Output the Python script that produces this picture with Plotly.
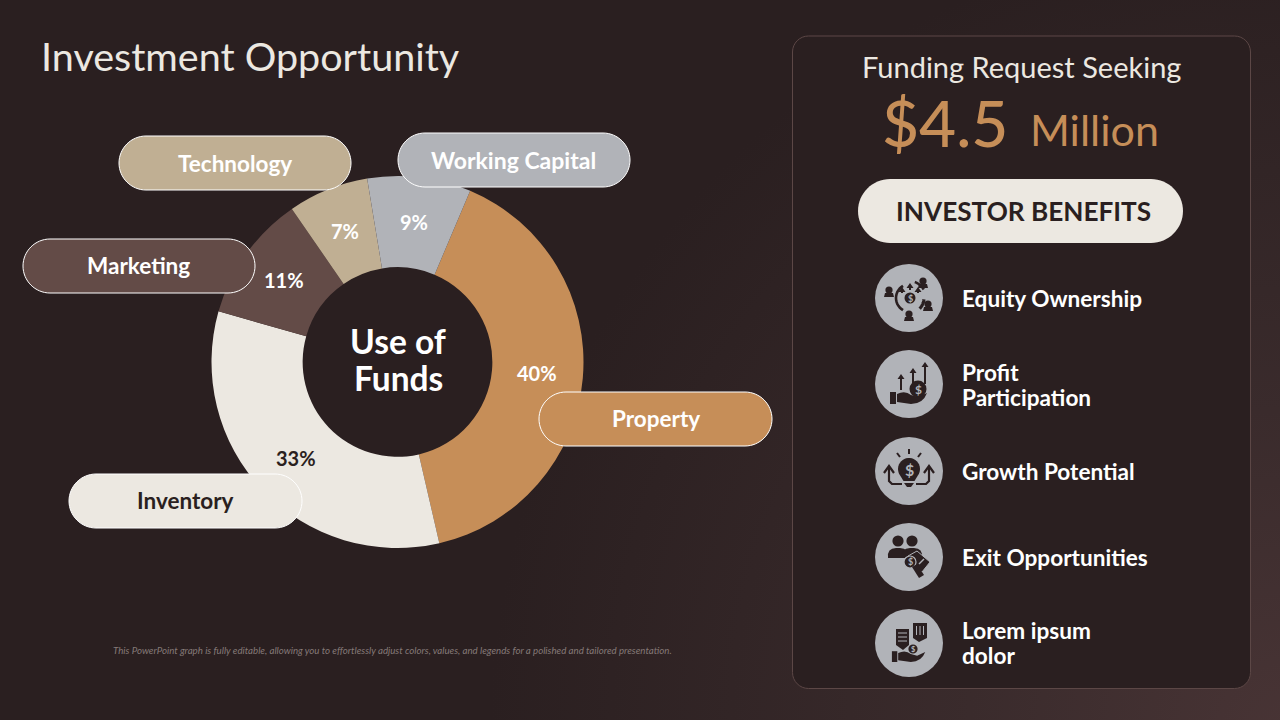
import base64, math
import plotly.graph_objects as go

# ---- data ----
categories = ["Property", "Inventory", "Marketing", "Technology", "Working Capital"]
shares = [40, 33, 11, 7, 9]
slice_colors = ["#C68E58", "#ECE8E1", "#634B47", "#C0AF93", "#B1B3B8"]
pct_colors = ["#FFFFFF", "#2A1F20", "#FFFFFF", "#FFFFFF", "#FFFFFF"]
benefits = [["Equity Ownership"], ["Profit", "Participation"], ["Growth Potential"], ["Exit Opportunities"], ["Lorem ipsum", "dolor"]]

BG = "#2A1F20"
CREAM = "#ECE8E1"
W, H = 1280, 720
CX, CY, R = 397.5, 362, 186
ROT = 23

svg = f'''<svg xmlns="http://www.w3.org/2000/svg" width="{W}" height="{H}"><defs>
<radialGradient id="g" gradientUnits="userSpaceOnUse" cx="1290" cy="730" r="800">
<stop offset="0" stop-color="#483435"/><stop offset="0.4" stop-color="#3A2B2C"/><stop offset="1" stop-color="{BG}"/>
</radialGradient></defs><rect width="{W}" height="{H}" fill="url(#g)"/></svg>'''
bg_uri = "data:image/svg+xml;base64," + base64.b64encode(svg.encode()).decode()

fig = go.Figure()
fig.add_trace(go.Scatter(x=[0, W], y=[0, H], mode="markers", marker=dict(opacity=0), hoverinfo="skip", showlegend=False))
fig.add_trace(go.Pie(
    labels=categories, values=shares, sort=False, direction="clockwise", rotation=ROT,
    hole=0.51, marker=dict(colors=slice_colors, line=dict(width=0)),
    textinfo="none",
    domain=dict(x=[(CX - R) / W, (CX + R) / W], y=[1 - (CY + R) / H, 1 - (CY - R) / H]),
    showlegend=False,
))

shapes, annos = [], []

def text(x, y, s, size, color="#FFFFFF", weight=400, anchor="center", style="normal"):
    annos.append(dict(x=x, y=y, xref="x", yref="y", text=s, showarrow=False, xanchor=anchor, yanchor="middle",
                      align="left" if anchor == "left" else "center",
                      font=dict(family="Lato", size=size, color=color, weight=weight, style=style)))

def pill_path(x0, y0, x1, y1, r=None):
    r = r or (y1 - y0) / 2
    k = 0.55 * r
    return (f"M{x0+r},{y0} L{x1-r},{y0} C{x1-r+k},{y0} {x1},{y0+r-k} {x1},{y0+r} L{x1},{y1-r} C{x1},{y1-r+k} {x1-r+k},{y1} {x1-r},{y1} "
            f"L{x0+r},{y1} C{x0+r-k},{y1} {x0},{y1-r+k} {x0},{y1-r} L{x0},{y0+r} C{x0},{y0+r-k} {x0+r-k},{y0} {x0+r},{y0} Z")

def shape_path(p, fill=None, line=None, width=0, layer="above"):
    shapes.append(dict(type="path", path=p, xref="x", yref="y", layer=layer,
                       fillcolor=fill or "rgba(0,0,0,0)",
                       line=dict(color=line or "rgba(0,0,0,0)", width=width)))

def circle(cx, cy, r, fill=None, line=None, width=0):
    shapes.append(dict(type="circle", xref="x", yref="y", x0=cx - r, x1=cx + r, y0=cy - r, y1=cy + r, layer="above",
                       fillcolor=fill or "rgba(0,0,0,0)", line=dict(color=line or "rgba(0,0,0,0)", width=width)))

# right panel
shape_path(pill_path(792.5, 36, 1250.5, 688.5, 16), BG, "#5C4746", 1, layer="below")

# percentage labels placed from the shares, mid-ring
acc = 0
total = sum(shares)
for v, col in zip(shares, pct_colors):
    mid = math.radians(ROT + (acc + v / 2) / total * 360)
    acc += v
    text(CX + 140 * math.sin(mid), CY - 140 * math.cos(mid) - 1, f"{v}%", 20, col, 700)

# category pills
pills = [
    (119, 136, 351, 190, 235, 163, "Technology", "#FFFFFF"),
    (398, 133, 630, 187, 513, 160, "Working Capital", "#FFFFFF"),
    (23, 239, 255, 293, 138.5, 265, "Marketing", "#FFFFFF"),
    (539, 392, 772, 446, 656, 418, "Property", "#FFFFFF"),
    (69, 474, 302, 528, 185, 500, "Inventory", "#2A1F20"),
]
fills = dict(zip(categories, slice_colors))
for x0, y0, x1, y1, tx, ty, name, col in pills:
    shape_path(pill_path(x0, y0, x1, y1), fills[name], "#FFFFFF", 1)
    text(tx, ty, name, 22.5 if name != "Working Capital" else 23, col, 700)

# titles
text(39, 55, "Investment Opportunity", 39.5, CREAM, 400, anchor="left")
text(398, 341, "Use of", 33.5, "#FFFFFF", 700)
text(398, 378, "Funds", 33.5, "#FFFFFF", 700)
text(1021, 66, "Funding Request Seeking", 29, CREAM, 400)
text(945, 122, "$4.5", 64, "#C68E58", 500)
text(1094.5, 129, "Million", 43, "#C68E58", 400)
shape_path(pill_path(858, 179, 1183, 243), CREAM)
text(1023.5, 211, "INVESTOR BENEFITS", 26.2, BG, 700)
text(392, 650, "This PowerPoint graph is fully editable, allowing you to effortlessly adjust colors, values, and legends for a polished and tailored presentation.",
     9.7, "#857A78", 400, style="italic")

# benefit rows
ICON = "#2A1F20"
GREY = "#B1B3B8"
rows = [298, 384, 471, 557, 643]
for y, lines in zip(rows, benefits):
    circle(909, y, 34, GREY)
    if len(lines) == 1:
        text(960, y, lines[0], 22.6, "#FFFFFF", 700, anchor="left")
    else:
        text(960, y - 13 if y > 400 else y - 12, lines[0], 22.6, "#FFFFFF", 700, anchor="left")
        text(960, y + 12 if y > 400 else y + 13, lines[1], 22.6, "#FFFFFF", 700, anchor="left")

def ic(cx, cy, pts, close=True):
    return "M" + " L".join(f"{cx+a:.2f},{cy+b:.2f}" for a, b in pts) + (" Z" if close else "")

def arc(cx, cy, r, a0, a1, n=14):
    pts = [(r * math.sin(math.radians(a0 + (a1 - a0) * i / n)), -r * math.cos(math.radians(a0 + (a1 - a0) * i / n))) for i in range(n + 1)]
    return ic(cx, cy, pts, False)

def arrow(cx, cy, x, y0, y1, w=1.0):
    shape_path(ic(cx, cy, [(x - w, y1), (x - w, y0 + 5), (x - 3.5, y0 + 5), (x, y0), (x + 3.5, y0 + 5), (x + w, y0 + 5), (x + w, y1)]), ICON)

def dollar(x, y, size, col=GREY):
    annos.append(dict(x=x, y=y, xref="x", yref="y", text="$", showarrow=False,
                      font=dict(family="Lato", size=size, color=col, weight=700)))

def hand(cx, cy, dy=0, s=1.0):
    shape_path(ic(cx, cy, [(-19*s, 8*s+dy), (-13*s, 8*s+dy), (-13*s, 20*s+dy), (-19*s, 20*s+dy)]), ICON)
    shape_path(f"M{cx-12*s},{cy+10*s+dy} Q{cx-4*s},{cy+6*s+dy} {cx+2*s},{cy+11*s+dy} L{cx+9*s},{cy+13*s+dy} "
               f"L{cx+18*s},{cy+9*s+dy} Q{cx+14*s},{cy+20*s+dy} {cx+2*s},{cy+20*s+dy} L{cx-12*s},{cy+18*s+dy} Z", ICON)

# icon 1: people around a coin
cx, cy = 909, 298
circle(cx + 1, cy, 5.5, ICON)
dollar(cx + 1, cy, 9)
shape_path(arc(cx + 1, cy, 14, 210, 330), None, ICON, 2.6)
shape_path(arc(cx, cy, 17, 20, 60), None, ICON, 2.6)
shape_path(arc(cx, cy, 15, 95, 135), None, ICON, 3.2)
for dx, dy in [(-20, -8), (14, -17), (19, 6), (0, 16)]:
    circle(cx + dx, cy + dy, 3.6, ICON)
    shape_path(ic(cx, cy, [(dx - 5, dy + 7), (dx - 4, dy + 3), (dx + 4, dy + 3), (dx + 5, dy + 7)]), ICON)
for dx, t, b in [(-7, -11, -5), (1, -15, -8), (9, -11, -5)]:
    arrow(cx, cy, dx, t, b, 1)

# icon 2: hand, coin and rising arrows
cx, cy = 909, 384
arrow(cx, cy, -8, -10, 6)
arrow(cx, cy, 4, -16, -1)
arrow(cx, cy, 16, -22, 0)
hand(cx, cy, 0)
circle(cx + 9, cy + 5, 8.5, ICON)
dollar(cx + 9, cy + 5, 12)

# icon 3: light bulb with arrows
cx, cy = 909, 471
bulb = [(11 * math.sin(math.radians(a)), -2 - 11 * math.cos(math.radians(a))) for a in range(-125, 126, 10)]
shape_path(ic(cx, cy, bulb + [(5.5, 10), (-5.5, 10)]), ICON)
shape_path(ic(cx, cy, [(-5, 12), (5, 12), (2, 16), (-2, 16)]), ICON)
dollar(cx, cy - 2, 16)
shape_path(ic(cx, cy, [(0, -22), (0, -17)], False), None, ICON, 2)
shape_path(ic(cx, cy, [(-12, -18), (-9, -14)], False), None, ICON, 2)
shape_path(ic(cx, cy, [(12, -18), (9, -14)], False), None, ICON, 2)
shape_path(ic(cx, cy, [(-7, 13), (-17, 13), (-20, 10), (-20, -3)], False), None, ICON, 2.2)
shape_path(ic(cx, cy, [(7, 13), (17, 13), (20, 10), (20, -3)], False), None, ICON, 2.2)
shape_path(ic(cx, cy, [(-25, 2), (-20, -5), (-15, 2)], False), None, ICON, 2.2)
shape_path(ic(cx, cy, [(15, 2), (20, -5), (25, 2)], False), None, ICON, 2.2)

# icon 4: two people and a tag
cx, cy = 909, 557
for dx in (-11, 3):
    circle(cx + dx, cy - 16, 5.6, ICON)
    shape_path(f"M{cx+dx-10},{cy+1} Q{cx+dx-11},{cy-9} {cx+dx-2},{cy-9} L{cx+dx+2},{cy-9} Q{cx+dx+11},{cy-9} {cx+dx+10},{cy+1} Z", ICON)
shape_path(ic(cx, cy, [(-1, -1), (8, -6), (21, 5), (13, 15), (2, 6)]), ICON, GREY, 1)
circle(cx + 1, cy + 5, 6, ICON, GREY, 1.2)
shape_path(ic(cx, cy, [(3, 10), (8, 7), (15, 18), (10, 21)]), ICON)
shape_path(ic(cx, cy, [(10, 7), (15, 2)], False), None, GREY, 1.4)
dollar(cx + 1, cy + 4, 9)

# icon 5: buildings, coin and hand
cx, cy = 909, 643
shape_path(ic(cx, cy, [(-13, -14), (0, -14), (0, 2), (-6, 7), (-13, 2)]), ICON)
shape_path(ic(cx, cy, [(4, -20), (18, -20), (18, -5), (10, -1), (4, -5)]), ICON)
for gy in (-10, -6, -2):
    shape_path(ic(cx, cy, [(-11, gy), (-2, gy)], False), None, GREY, 1)
for gx in (7.5, 11, 14.5):
    shape_path(ic(cx, cy, [(gx, -17), (gx, -8)], False), None, GREY, 1)
circle(cx + 4, cy + 6, 4.6, ICON)
dollar(cx + 4, cy + 6, 7.5)
hand(cx, cy, 1, 0.9)

fig.update_layout(
    width=W, height=H, autosize=False,
    margin=dict(l=0, r=0, t=0, b=0),
    paper_bgcolor=BG, plot_bgcolor="rgba(0,0,0,0)",
    showlegend=False,
    xaxis=dict(range=[0, W], visible=False, fixedrange=True),
    yaxis=dict(range=[H, 0], visible=False, fixedrange=True),
    shapes=shapes, annotations=annos,
    images=[dict(source=bg_uri, xref="paper", yref="paper", x=0, y=1, sizex=1, sizey=1,
                 xanchor="left", yanchor="top", sizing="stretch", layer="below")],
)
fig.write_html("out.html", config=dict(displayModeBar=False),
               post_script="document.documentElement.style.margin='0';document.body.style.margin='0';document.body.style.overflow='hidden';document.body.style.background='#2A1F20';")
